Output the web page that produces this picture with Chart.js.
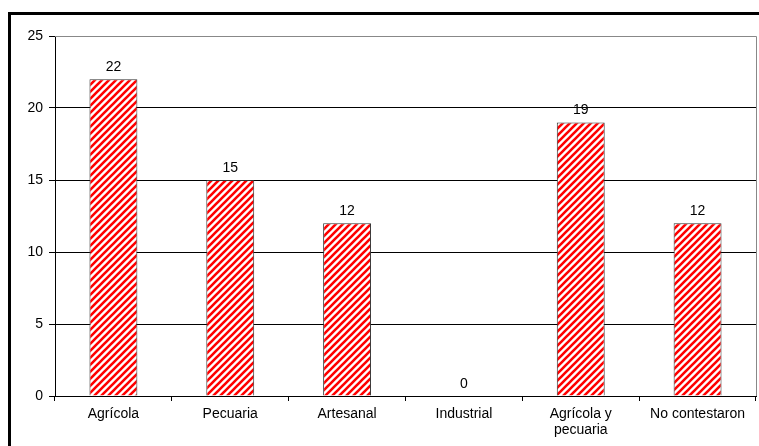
<!DOCTYPE html>
<html>
<head>
<meta charset="utf-8">
<script src="https://cdn.jsdelivr.net/npm/chart.js@4"></script>
<style>
  body{ margin:0; background:#fff; }
  #wrap{ position:relative; width:759px; height:446px; overflow:hidden; }
  #frame{ position:absolute; left:8px; top:12px; width:800px; height:500px;
          border-top:3px solid #000; border-left:3px solid #000; pointer-events:none; }
</style>
</head>
<body>
<div id="wrap">
  <canvas id="c" width="759" height="446"></canvas>
  <div id="frame"></div>
</div>
<script>
// data
const categories = ["Agrícola", "Pecuaria", "Artesanal", "Industrial", ["Agrícola y", "pecuaria"], "No contestaron"];
const values = [22, 15, 12, 0, 19, 12];
const yTicks = [0, 5, 10, 15, 20, 25];

const FONT = "'Liberation Sans', Arial, sans-serif";

// red diagonal hatch ("/" stripes)
function hatch(){
  const n = 7;
  const p = document.createElement("canvas");
  p.width = n; p.height = n;
  const g = p.getContext("2d");
  g.fillStyle = "#fff";
  g.fillRect(0,0,n,n);
  g.strokeStyle = "#ff0000";
  g.lineWidth = 2.6;
  g.beginPath();
  g.moveTo(-2,n+2); g.lineTo(n+2,-2);
  g.moveTo(-2,2); g.lineTo(2,-2);
  g.moveTo(n-2,n+2); g.lineTo(n+2,n-2);
  g.stroke();
  return g.createPattern(p, "repeat");
}

const valueLabels = {
  id:"valueLabels",
  afterDatasetsDraw(chart){
    const ctx = chart.ctx;
    const meta = chart.getDatasetMeta(0);
    ctx.save();
    ctx.font = "14px " + FONT;
    ctx.fillStyle = "#000";
    ctx.textAlign = "center";
    ctx.textBaseline = "middle";
    meta.data.forEach((bar, i) => {
      ctx.fillText(String(values[i]), bar.x, bar.y - 12);
    });
    ctx.restore();
  }
};

const plotBorder = {
  id:"plotBorder",
  afterDraw(chart){
    const a = chart.chartArea, ctx = chart.ctx;
    ctx.save();
    ctx.strokeStyle = "#888";
    ctx.lineWidth = 1;
    ctx.beginPath();
    ctx.moveTo(a.left, a.top + 0.5);
    ctx.lineTo(a.right + 0.5, a.top + 0.5);
    ctx.lineTo(a.right + 0.5, a.bottom);
    ctx.stroke();
    ctx.restore();
  }
};

new Chart(document.getElementById("c"), {
  type:"bar",
  data:{
    labels: categories,
    datasets:[{
      data: values,
      backgroundColor: hatch(),
      borderColor: "#333",
      borderWidth: 1,
      barPercentage: 0.41,
      categoryPercentage: 1
    }]
  },
  options:{
    responsive:false,
    animation:false,
    layout:{ padding:{ top:36, right:3, left:0, bottom:0 } },
    plugins:{ legend:{ display:false }, tooltip:{ enabled:false } },
    scales:{
      x:{
        offset:true,
        grid:{ display:true, drawOnChartArea:false, offset:true, tickLength:5, tickColor:"#000" },
        border:{ color:"#000" },
        ticks:{ color:"#000", font:{ family:FONT, size:14, lineHeight:1.15 }, padding:5, maxRotation:0, autoSkip:false },
        afterFit(s){ s.height = 50; }
      },
      y:{
        min:0, max:25,
        afterBuildTicks(s){ s.ticks = yTicks.map(v => ({ value:v })); },
        grid:{ color:(c) => c.tick && c.tick.value === 25 ? "#888" : "#000", tickLength:6, tickColor:"#000" },
        border:{ color:"#000" },
        ticks:{ color:"#000", font:{ family:FONT, size:14 }, padding:6 },
        afterFit(s){ s.width = 55; }
      }
    }
  },
  plugins:[valueLabels, plotBorder]
});
</script>
</body>
</html>
